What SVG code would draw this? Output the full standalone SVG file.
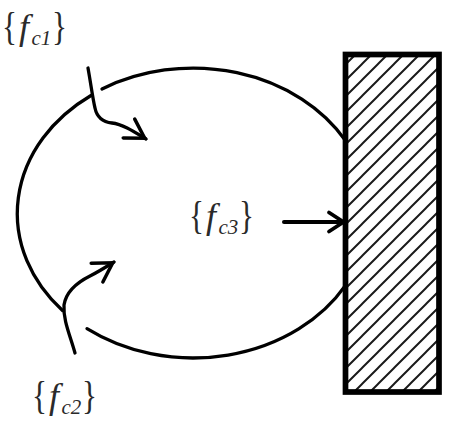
<svg xmlns="http://www.w3.org/2000/svg" width="450" height="427" viewBox="0 0 450 427">
  <style>
    .curve { fill: none; stroke: #000; stroke-width: 3.3; stroke-linecap: round; }
    .arrow { fill: none; stroke: #000; stroke-width: 3.3; stroke-linecap: round; marker-end: url(#head); }
    .lbl { font-family: "Liberation Serif", "Times New Roman", serif; fill: #2a2a2a; }
    .br { font-size: 39px; }
    .f { font-size: 36px; font-style: italic; }
    .sub { font-size: 21px; font-style: italic; }
    .hatchline { stroke: #1a1a1a; stroke-width: 2; }
  </style>
  <defs>
    <marker id="head" markerUnits="userSpaceOnUse" viewBox="-24 -14 28 28" markerWidth="28" markerHeight="28" refX="0" refY="0" orient="auto">
      <path d="M-20,-11 L-1.5,0 L-20,11" fill="none" stroke="#000" stroke-width="3.5" stroke-linejoin="miter" stroke-linecap="round"/>
    </marker>
    <marker id="headS" markerUnits="userSpaceOnUse" viewBox="-24 -14 28 28" markerWidth="28" markerHeight="28" refX="0" refY="0" orient="auto">
      <path d="M-16,-9.5 L-1.5,0 L-16,9.5" fill="none" stroke="#000" stroke-width="3.8" stroke-linejoin="miter" stroke-linecap="round"/>
    </marker>
    <pattern id="hatch" patternUnits="userSpaceOnUse" x="10" y="0" width="16" height="16">
      <path class="hatchline" d="M0,16 L16,0 M-2,2 L2,-2 M14,18 L18,14"/>
    </pattern>
  </defs>
  <rect x="0" y="0" width="450" height="427" fill="#fff"/>

  <g id="body">
    <path class="curve" d="M102,89 A176,145 0 0 1 345.5,140.6"/>
    <path class="curve" d="M91,95.5 A176,145 0 0 0 62.5,310.5"/>
    <path class="curve" d="M87,328.7 A176,145 0 0 0 345.5,285.4"/>
  </g>

  <g id="wall">
    <rect x="345.5" y="54.5" width="93.5" height="337.5" fill="url(#hatch)" stroke="#000" stroke-width="5.7"/>
  </g>

  <g id="connectors">
    <path id="arrow-fc1" class="arrow" d="M88,68 C91,85 93,100 95,108 C97,118 103,122 112,123 C122,124 133,131 146,139"/>
    <path id="arrow-fc2" class="arrow" d="M75,353 C70,335 63,320 64,305 C66,292 78,282 90,276 C98,272 106,267 114,262"/>
    <path id="arrow-fc3" class="arrow" style="stroke-width:4;marker-end:url(#headS)" d="M284,222 L345,222"/>
  </g>

  <g id="label-fc1" class="lbl" transform="translate(0,40)">
    <text class="br" transform="scale(0.8,1)" x="2.4" y="0">{</text>
    <text class="f" x="19" y="-1">f</text>
    <text class="sub" x="31.5" y="5">c1</text>
    <text class="br" transform="scale(0.8,1)" x="65" y="0">}</text>
  </g>

  <g id="label-fc2" class="lbl" transform="translate(30,409)">
    <text class="br" transform="scale(0.8,1)" x="2.4" y="0">{</text>
    <text class="f" x="19" y="-1">f</text>
    <text class="sub" x="31.5" y="5">c2</text>
    <text class="br" transform="scale(0.8,1)" x="65" y="0">}</text>
  </g>

  <g id="label-fc3" class="lbl" transform="translate(187,229)">
    <text class="br" transform="scale(0.8,1)" x="2.4" y="0">{</text>
    <text class="f" x="19" y="-1">f</text>
    <text class="sub" x="31.5" y="5">c3</text>
    <text class="br" transform="scale(0.8,1)" x="65" y="0">}</text>
  </g>
</svg>
